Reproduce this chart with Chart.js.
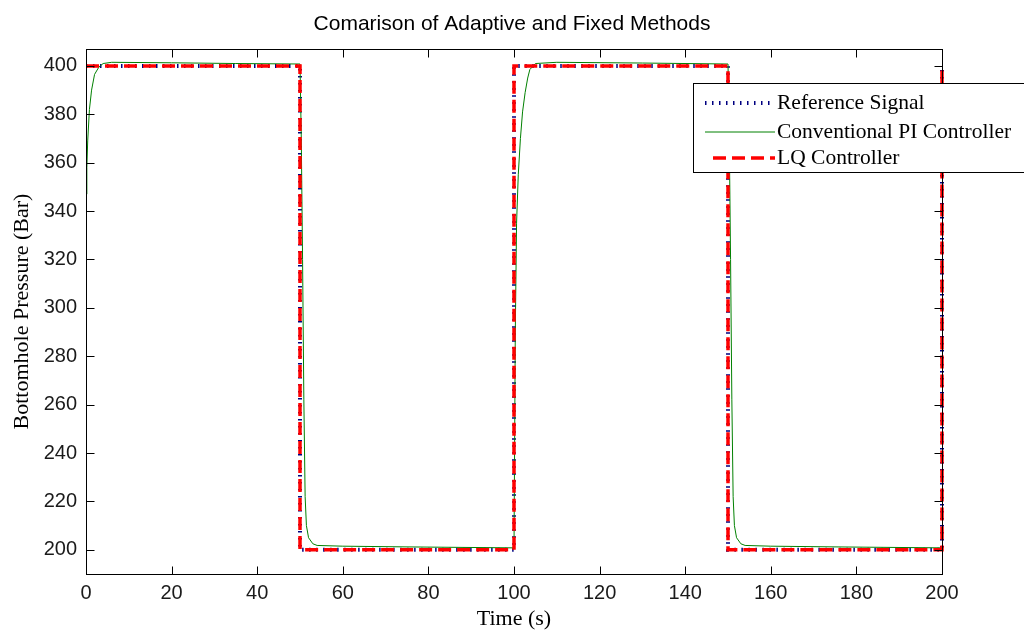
<!DOCTYPE html>
<html>
<head>
<meta charset="utf-8">
<script src="https://cdn.jsdelivr.net/npm/chart.js@4.4.1/dist/chart.umd.min.js"></script>
<style>
  html, body { margin: 0; padding: 0; background: #fff; }
  canvas { display: block; }
</style>
</head>
<body>
<canvas id="myChart" width="1024" height="632"></canvas>
<script>
// tick labels
const xTicks = [0, 20, 40, 60, 80, 100, 120, 140, 160, 180, 200];
const yTicks = [200, 220, 240, 260, 280, 300, 320, 340, 360, 380, 400];

// Reference signal (square wave)
const refTime  = [0, 50, 50, 100, 100, 150, 150, 200, 200];
const refValue = [400, 400, 200, 200, 400, 400, 200, 200, 400];

// Conventional PI controller response
const piTime = [0, 0.2, 0.4, 0.8, 1.3, 2, 3, 4, 6, 20, 35, 50,
  50.3, 50.6, 50.9, 51.2, 51.5, 52, 53, 54, 60, 75, 100,
  100.3, 100.6, 101, 101.5, 102, 102.6, 103.2, 103.7, 105, 110, 130, 150,
  150.3, 150.6, 150.9, 151.2, 151.5, 152, 153, 154, 160, 175, 200];
const piValue = [347, 358, 369, 382, 390, 396.5, 399.5, 401, 401.5, 401.3, 401, 400.8,
  370, 320, 262, 222, 210, 205, 202.5, 201.8, 201.5, 201.2, 200.8,
  290, 335, 355, 370, 381, 389, 395, 398.5, 401, 401.5, 401.2, 400.8,
  370, 320, 262, 222, 210, 205, 202.5, 201.8, 201.5, 201.2, 200.8];

// LQ controller
const lqTime  = [0, 50, 50, 100, 100, 150, 150, 200, 200];
const lqValue = [400, 400, 200, 200, 400, 400, 200, 200, 400];

const seriesNames = ['Reference Signal', 'Conventional PI Controller', 'LQ Controller'];

const toPoints = (xs, ys) => xs.map((x, i) => ({ x: x, y: ys[i] }));

// MATLAB style box with inward ticks + legend box
const matlabAxes = {
  id: 'matlabAxes',
  afterDraw(chart) {
    const ctx = chart.ctx;
    const a = chart.chartArea;
    const xs = chart.scales.x, ys = chart.scales.y;
    const L = Math.round(a.left) + 0.5, R = Math.round(a.right) + 0.5;
    const T = Math.round(a.top) + 0.5, B = Math.round(a.bottom) + 0.5;
    const tl = 8;
    ctx.save();
    ctx.strokeStyle = '#000';
    ctx.lineWidth = 1;
    ctx.setLineDash([]);
    ctx.strokeRect(L, T, R - L, B - T);
    ctx.beginPath();
    xTicks.forEach(v => {
      const px = Math.round(xs.getPixelForValue(v)) + 0.5;
      ctx.moveTo(px, B); ctx.lineTo(px, B - tl);
      ctx.moveTo(px, T); ctx.lineTo(px, T + tl);
    });
    yTicks.forEach(v => {
      const py = Math.round(ys.getPixelForValue(v)) + 0.5;
      ctx.moveTo(L, py); ctx.lineTo(L + tl, py);
      ctx.moveTo(R, py); ctx.lineTo(R - tl, py);
    });
    ctx.stroke();

    // legend
    const bx = 693.5, by = 83.5, bw = 340, bh = 89;
    ctx.fillStyle = '#fff';
    ctx.fillRect(bx, by, bw, bh);
    ctx.strokeRect(bx, by, bw, bh);
    const rows = [103, 132, 158];
    ctx.font = '21.5px "Liberation Serif"';
    ctx.textBaseline = 'middle';
    ctx.textAlign = 'left';
    chart.data.datasets.forEach((ds, i) => {
      const y = rows[i];
      ctx.beginPath();
      ctx.strokeStyle = ds.borderColor;
      ctx.lineWidth = ds.borderWidth;
      ctx.setLineDash(ds.borderDash || []);
      ctx.moveTo(i === 2 ? 713 : 705, y);
      ctx.lineTo(775, y);
      ctx.stroke();
      ctx.fillStyle = '#000';
      ctx.fillText(seriesNames[i], 777, y);
    });
    ctx.restore();
  }
};

const ctx = document.getElementById('myChart').getContext('2d');
new Chart(ctx, {
  type: 'line',
  data: {
    datasets: [
      {
        label: seriesNames[0],
        data: toPoints(refTime, refValue),
        borderColor: '#000080',
        borderWidth: 4,
        borderDash: [1.5, 5.5],
        order: 2
      },
      {
        label: seriesNames[1],
        data: toPoints(piTime, piValue),
        borderColor: '#008000',
        borderWidth: 1,
        order: 1
      },
      {
        label: seriesNames[2],
        data: toPoints(lqTime, lqValue),
        borderColor: '#ff0000',
        borderWidth: 3.5,
        borderDash: [13, 6],
        order: 0
      }
    ]
  },
  options: {
    responsive: false,
    animation: false,
    devicePixelRatio: 1,
    layout: { padding: 0 },
    elements: {
      point: { radius: 0 },
      line: { tension: 0, fill: false }
    },
    datasets: { line: { clip: false } },
    plugins: {
      legend: { display: false },
      tooltip: { enabled: false },
      title: {
        display: true,
        text: 'Comarison of Adaptive and Fixed Methods',
        color: '#000',
        font: { family: '"Liberation Sans", Arial, sans-serif', size: 21, weight: 'normal', lineHeight: '25px' },
        padding: { top: 12, bottom: 12 }
      }
    },
    scales: {
      x: {
        type: 'linear',
        min: 0,
        max: 200,
        afterBuildTicks: s => { s.ticks = xTicks.map(v => ({ value: v })); },
        afterFit: s => { s.height = 58; },
        grid: { display: false, drawTicks: false },
        border: { display: false },
        ticks: {
          padding: 7,
          maxRotation: 0,
          autoSkip: false,
          color: '#1a1a1a',
          font: { family: '"Liberation Sans", Arial, sans-serif', size: 20 }
        },
        title: {
          display: true,
          text: 'Time (s)',
          color: '#000',
          padding: { top: 0, bottom: 0 },
          font: { family: '"Liberation Serif", "Times New Roman", serif', size: 22, lineHeight: 1.2 }
        }
      },
      y: {
        min: 190,
        max: 407,
        afterBuildTicks: s => { s.ticks = yTicks.map(v => ({ value: v })); },
        afterFit: s => { s.width = 86; },
        grid: { display: false, drawTicks: false },
        border: { display: false },
        ticks: {
          padding: 9,
          autoSkip: false,
          color: '#1a1a1a',
          font: { family: '"Liberation Sans", Arial, sans-serif', size: 20 }
        },
        title: {
          display: true,
          text: 'Bottomhole Pressure (Bar)',
          color: '#000',
          padding: { top: 9, bottom: 0 },
          font: { family: '"Liberation Serif", "Times New Roman", serif', size: 22, lineHeight: 1.2 }
        }
      },
      // empty right-hand axis that only reserves the margin right of the box
      yRight: {
        position: 'right',
        min: 190,
        max: 407,
        afterFit: s => { s.width = 82; },
        grid: { display: false, drawTicks: false },
        border: { display: false },
        ticks: { display: false }
      }
    }
  },
  plugins: [matlabAxes]
});
</script>
</body>
</html>
